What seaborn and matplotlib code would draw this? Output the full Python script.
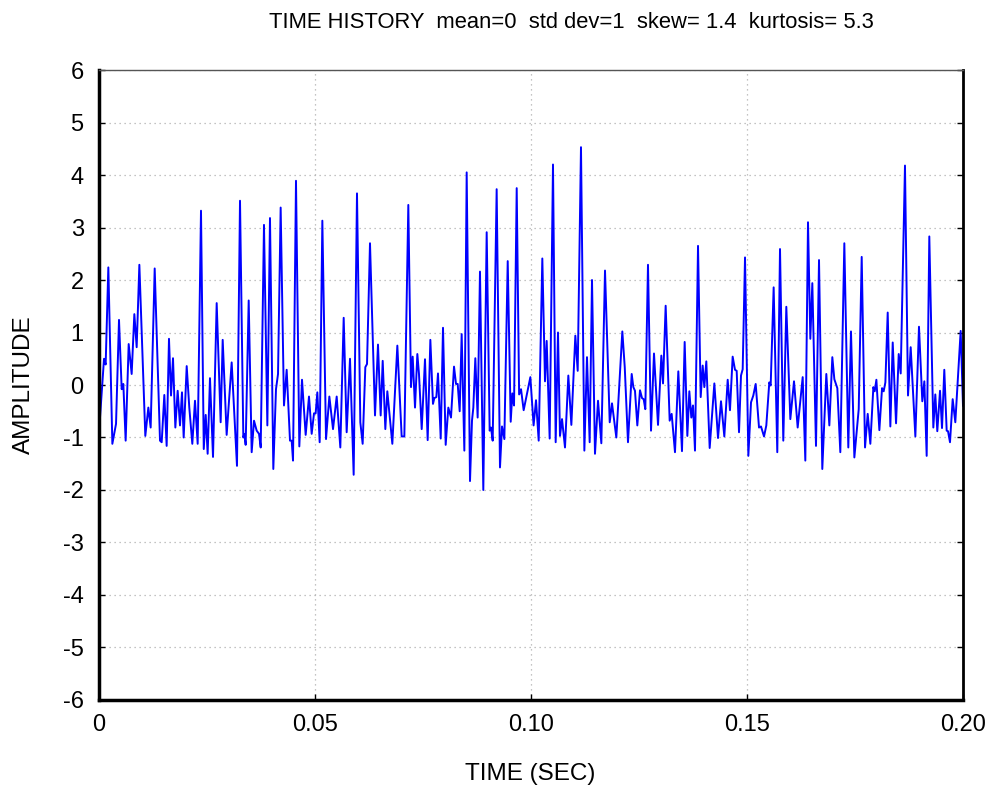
import numpy as np
import pandas as pd
import matplotlib
matplotlib.use("Agg")
import matplotlib.pyplot as plt
from matplotlib.ticker import MultipleLocator
import seaborn as sns

# time (sec) and amplitude, peak by peak
time = [
    0.0, 0.00116, 0.00154, 0.00216, 0.00309, 0.00394, 0.00463, 0.00525, 0.00563, 0.00617,
    0.00687, 0.00756, 0.00818, 0.00872, 0.00934, 0.01072, 0.01142, 0.01196, 0.01289, 0.01412,
    0.01451, 0.01512, 0.01566, 0.0162, 0.01667, 0.01713, 0.01767, 0.01821, 0.01875, 0.01921,
    0.0196, 0.0203, 0.0209, 0.0216, 0.02222, 0.02284, 0.02361, 0.02425, 0.0247, 0.02515,
    0.02569, 0.02639, 0.02724, 0.02816, 0.02863, 0.02955, 0.03071, 0.03194, 0.03264, 0.03341,
    0.03364, 0.03395, 0.03465, 0.03534, 0.03588, 0.0365, 0.03704, 0.03743, 0.03819, 0.03897,
    0.03958, 0.04035, 0.04097, 0.04144, 0.04205, 0.04282, 0.04344, 0.04421, 0.0446, 0.04491,
    0.0456, 0.04637, 0.04699, 0.04784, 0.04861, 0.04923, 0.04977, 0.05015, 0.05054, 0.05108,
    0.0517, 0.05255, 0.05332, 0.05417, 0.05502, 0.05586, 0.05664, 0.05733, 0.0581, 0.05895,
    0.05972, 0.06049, 0.06103, 0.06165, 0.06204, 0.06273, 0.06389, 0.06458, 0.0652, 0.06567,
    0.06628, 0.06674, 0.0679, 0.06906, 0.07006, 0.07068, 0.0716, 0.07222, 0.07261, 0.07315,
    0.07369, 0.07407, 0.0747, 0.07546, 0.07608, 0.0767, 0.07731, 0.07762, 0.07809, 0.07847,
    0.0791, 0.07963, 0.08025, 0.08086, 0.08148, 0.08218, 0.08264, 0.08303, 0.08349, 0.08395,
    0.08457, 0.08511, 0.08588, 0.08634, 0.08665, 0.08711, 0.08765, 0.08819, 0.08896, 0.08974,
    0.09043, 0.09074, 0.09113, 0.09205, 0.09282, 0.09329, 0.09383, 0.09461, 0.0953, 0.09568,
    0.09607, 0.09669, 0.09725, 0.09769, 0.0983, 0.09985, 0.1006, 0.10116, 0.10178, 0.10262,
    0.10324, 0.10363, 0.10432, 0.10509, 0.10571, 0.10625, 0.10671, 0.10718, 0.10787, 0.10864,
    0.10934, 0.11026, 0.11081, 0.11157, 0.11235, 0.11296, 0.11358, 0.11412, 0.11481, 0.11551,
    0.11628, 0.11713, 0.11822, 0.11875, 0.11975, 0.12114, 0.1217, 0.12245, 0.12331, 0.12369,
    0.12407, 0.12461, 0.12523, 0.1257, 0.12608, 0.12646, 0.12708, 0.12778, 0.12847, 0.1294,
    0.13017, 0.13056, 0.13117, 0.1321, 0.13256, 0.13333, 0.1341, 0.13495, 0.13557, 0.13619,
    0.13665, 0.13711, 0.1375, 0.13796, 0.13866, 0.13928, 0.13974, 0.14012, 0.14058, 0.14136,
    0.14244, 0.14329, 0.14398, 0.14475, 0.14553, 0.14606, 0.14668, 0.14722, 0.14761, 0.14815,
    0.14861, 0.149, 0.14954, 0.15031, 0.15093, 0.15146, 0.15201, 0.15278, 0.15324, 0.15394,
    0.15447, 0.15516, 0.15548, 0.15617, 0.15701, 0.15764, 0.1584, 0.1591, 0.16003, 0.16088,
    0.16173, 0.16289, 0.1635, 0.16412, 0.16466, 0.16512, 0.16597, 0.16667, 0.16743, 0.16836,
    0.16906, 0.16975, 0.17022, 0.17091, 0.1716, 0.17253, 0.17345, 0.17407, 0.17485, 0.17586,
    0.17655, 0.17732, 0.17794, 0.17855, 0.17925, 0.17956, 0.17995, 0.18064, 0.18126, 0.18164,
    0.18203, 0.18257, 0.18318, 0.18373, 0.1845, 0.18512, 0.18558, 0.18657, 0.18727, 0.18789,
    0.18897, 0.18981, 0.19058, 0.19105, 0.19159, 0.1922, 0.19313, 0.19359, 0.19405, 0.19468,
    0.19514, 0.19567, 0.19622, 0.19653, 0.19699, 0.19761, 0.19822, 0.19946, 0.2,
]
amplitude = [
    -0.9, 0.50, 0.39, 2.24, -1.12, -0.74, 1.24, -0.08, 0.02, -1.06,
    0.78, 0.21, 1.35, 0.72, 2.29, -0.97, -0.43, -0.81, 2.22, -1.06,
    -1.09, -0.19, -1.16, 0.88, -0.20, 0.51, -0.81, -0.11, -0.77, -0.14,
    -1.00, 0.36, -0.43, -1.12, -0.30, -1.12, 3.32, -1.22, -0.57, -1.31,
    0.13, -1.37, 1.56, -0.71, 0.86, -0.95, 0.43, -1.54, 3.51, -1.00,
    -0.93, -1.14, 1.61, -1.28, -0.68, -0.87, -0.93, -1.19, 3.05, -0.77,
    3.18, -1.60, -0.08, 0.21, 3.38, -0.39, 0.29, -1.06, -1.06, -1.44,
    3.89, -1.17, 0.10, -0.95, -0.22, -0.93, -0.54, -0.54, -0.14, -1.09,
    3.13, -1.03, -0.22, -0.84, -0.22, -1.19, 1.28, -0.90, 0.50, -1.71,
    3.65, -0.71, -1.12, 0.34, 0.40, 2.70, -0.58, 0.77, -0.58, 0.46,
    -0.84, -0.12, -1.12, 0.75, -0.98, -0.98, 3.43, -0.04, 0.54, -0.43,
    0.59, 0.21, -0.84, 0.49, -1.05, 0.86, -0.36, -0.25, -0.23, 0.22,
    -1.02, 1.09, -1.14, -0.43, -0.62, 0.35, 0.02, 0.02, -0.50, 0.97,
    -1.25, 4.05, -1.83, -0.68, -0.43, 0.51, -0.62, 2.16, -2.00, 2.91,
    -0.87, -0.81, -1.06, 3.73, -1.57, -0.79, -1.03, 2.36, -0.70, -0.16,
    -0.39, 3.75, -0.18, -0.08, -0.48, 0.15, -0.77, -0.29, -1.06, 2.41,
    0.07, 0.84, -1.02, 4.20, -1.09, 1.00, -0.97, -0.65, -1.19, 0.18,
    -0.76, 0.94, 0.27, 4.53, -1.25, 0.53, -1.09, 2.00, -1.31, -0.30,
    -1.11, 2.18, -0.71, -0.35, -1.00, 1.02, 0.34, -1.09, 0.21, -0.04,
    -0.11, -0.77, -0.10, -0.25, -0.27, -0.46, 2.29, -0.87, 0.60, -0.76,
    0.56, 0.03, 1.51, -0.68, -0.55, -1.28, 0.26, -1.26, 0.82, -0.97,
    -0.12, -0.62, -0.39, -1.25, 2.65, -0.23, 0.37, -0.04, 0.45, -1.20,
    0.03, -1.01, -0.31, -0.98, 0.10, -0.48, 0.54, 0.29, 0.27, -0.90,
    0.18, 0.30, 2.43, -1.35, -0.33, -0.20, 0.02, -0.81, -0.79, -0.98,
    -0.77, 0.05, -0.01, 1.86, -1.28, 2.59, -1.06, 1.49, -0.65, 0.07,
    -0.81, 0.15, -1.44, 3.10, 0.88, 1.94, -1.16, 2.38, -1.60, 0.21,
    -0.77, 0.53, 0.11, -0.06, -1.28, 2.70, -1.19, 1.02, -1.38, -0.46,
    2.44, -1.19, -0.55, -1.12, -0.04, -0.12, 0.10, -0.86, -0.06, -0.12,
    0.05, 1.38, -0.79, 0.81, -0.73, 0.59, 0.22, 4.18, -0.20, 0.72,
    -0.98, 1.11, -0.31, 0.07, -1.35, 2.83, -0.81, -0.18, -0.88, -0.11,
    -0.82, 0.29, -0.87, -0.88, -1.09, -0.27, -0.71, 1.03, -0.4,
]

x_ticks = [0, 0.05, 0.10, 0.15, 0.20]
x_tick_labels = ["0", "0.05", "0.10", "0.15", "0.20"]
y_ticks = list(range(-6, 7))

df = pd.DataFrame({"time": time, "amplitude": amplitude})

sns.set_theme(style="white")
plt.rcParams["font.family"] = ["Liberation Sans", "DejaVu Sans"]
plt.rcParams["axes.unicode_minus"] = False
plt.rcParams["text.color"] = "black"
plt.rcParams["xtick.color"] = "black"
plt.rcParams["ytick.color"] = "black"

fig = plt.figure(figsize=(9.97, 7.93), dpi=100)
ax = fig.add_axes([0.0993, 0.1173, 0.8666, 0.7944])

sns.lineplot(data=df, x="time", y="amplitude", sort=False, estimator=None,
             color="#0000ff", linewidth=1.4, ax=ax)

ax.set_xlim(0, 0.20)
ax.set_ylim(-6, 6)
ax.set_xticks(x_ticks)
ax.set_xticklabels(x_tick_labels)
ax.set_yticks(y_ticks)
ax.xaxis.set_minor_locator(MultipleLocator(0.01))
ax.yaxis.set_minor_locator(MultipleLocator(0.5))
ax.tick_params(axis="both", which="both", direction="in", labelsize=17,
               color="black", labelcolor="black")
ax.tick_params(axis="x", pad=10)
ax.tick_params(axis="y", pad=11)
ax.tick_params(which="major", length=4, width=1)
ax.tick_params(which="minor", length=3, width=1)
ax.tick_params(axis="y", right=True, left=True)
ax.tick_params(axis="x", bottom=True, top=False)

ax.grid(True, which="major", linestyle=(0, (1, 3)), color="#b0b0b0", linewidth=0.9)

for side in ["left", "bottom"]:
    ax.spines[side].set_color("black")
    ax.spines[side].set_linewidth(2.5)
ax.spines["right"].set_color("black")
ax.spines["right"].set_linewidth(2.0)
ax.spines["top"].set_color("#555555")
ax.spines["top"].set_linewidth(1.0)

ax.set_xlabel("")
ax.set_ylabel("")
fig.text(0.532, 0.0164, "TIME (SEC)", ha="center", va="baseline", fontsize=17.5)
fig.text(0.024, 0.515, "AMPLITUDE", ha="center", va="center", rotation=90, fontsize=17.5)
fig.text(0.573, 0.972, "TIME HISTORY  mean=0  std dev=1  skew= 1.4  kurtosis= 5.3",
         ha="center", va="center", fontsize=15.8)

fig.savefig("out.png", dpi=100)
